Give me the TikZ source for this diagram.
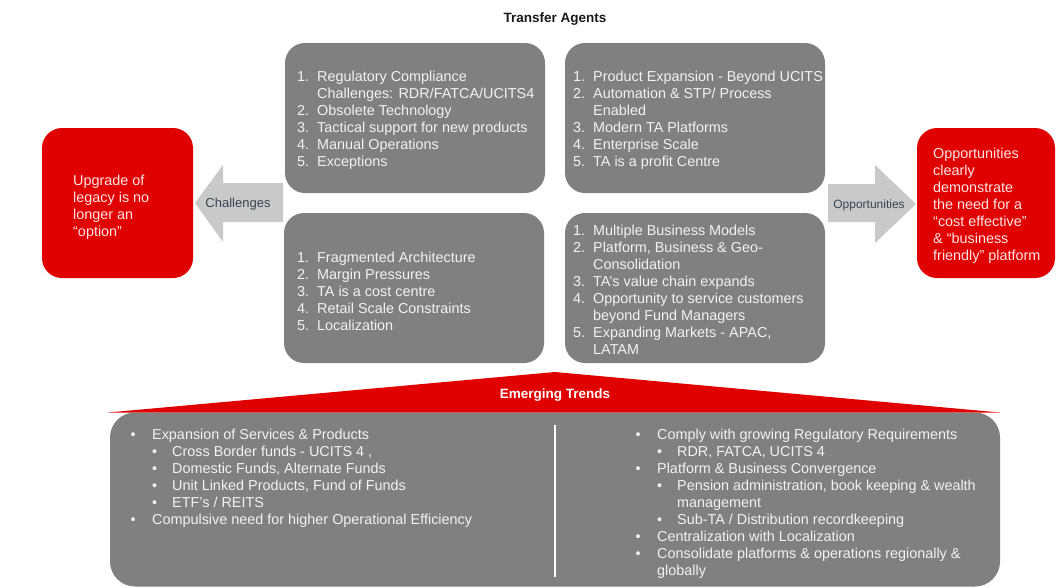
\documentclass[tikz,border=0pt]{standalone}
\usepackage{fontspec}
\setmainfont{Liberation Sans}
\definecolor{tared}{HTML}{E10000}
\definecolor{tagray}{HTML}{808080}
\definecolor{taarrow}{HTML}{C9C9C9}
\definecolor{tatext}{HTML}{F2F2F2}
\definecolor{tapink}{HTML}{FCE4E4}
\definecolor{talabel}{HTML}{3A4450}
\newcommand\numit[2]{\makebox[20pt][l]{#1}#2}
\newcommand\contl[1]{\hspace{20pt}#1}
\newcommand\bul{\makebox[21.5pt][l]{\textbullet}}
\newcommand\subbul{\hspace{21.5pt}\makebox[20pt][l]{\textbullet}}
\begin{document}
\begin{tikzpicture}[x=1pt,y=-1pt,
  graybox/.style={fill=tagray, draw=none, rounded corners=20pt, inner sep=0pt, minimum width=260pt, minimum height=150pt},
  redbox/.style={fill=tared, draw=none, rounded corners=20pt, inner sep=0pt, minimum height=150pt},
  listtext/.style={anchor=north west, inner sep=0pt, text=tatext, font=\fontsize{14.4}{17}\selectfont},
  redtext/.style={anchor=north west, inner sep=0pt, text=tapink, font=\fontsize{14.4}{17}\selectfont},
  blockarrow/.style={fill=taarrow, draw=none},
  arrowlabel/.style={inner sep=0pt, text=talabel},
  title/.style={inner sep=0pt, font=\bfseries\fontsize{13.5}{16}\selectfont}
]
\useasboundingbox (0,0) rectangle (1057,587);
\fill[white] (0,0) rectangle (1057,587);

% title
\node[title, text=black!90] (title) at (555,19.5) {Transfer Agents};

% block arrows
\fill[blockarrow] (195,203) -- (223,165) -- (223,183) -- (283,183) -- (283,222) -- (223,222) -- (223,242) -- cycle;
\fill[blockarrow] (916,204) -- (875,165) -- (875,184) -- (828,184) -- (828,222) -- (875,222) -- (875,243) -- cycle;
\node[arrowlabel, font=\fontsize{13}{15}\selectfont] (chal) at (238,204) {Challenges};
\node[arrowlabel, font=\fontsize{12}{14}\selectfont] (opp) at (869,205) {Opportunities};

% gray boxes
\node[graybox] (tl) at (415,118) {};
\node[graybox] (tr) at (695,118) {};
\node[graybox] (bl) at (414,288) {};
\node[graybox] (br) at (695,288) {};

% red boxes
\node[redbox, minimum width=151pt] (rl) at (117.5,203) {};
\node[redbox, minimum width=138pt] (rr) at (986,203) {};

\node[redtext] (rltext) at (73,173) {\begin{tabular}{@{}l@{}}Upgrade of\\ legacy is no\\ longer an\\ “option”\end{tabular}};
\node[redtext] (rrtext) at (933,146.5) {\begin{tabular}{@{}l@{}}Opportunities\\ clearly\\ demonstrate\\ the need for a\\ “cost effective”\\ \& “business\\ friendly” platform\end{tabular}};

% gray box texts
\node[listtext] (tltext) at (297,69) {\begin{tabular}{@{}l@{}}
\numit{1.}{Regulatory Compliance}\\
\contl{Challenges: RDR/FATCA/UCITS4}\\
\numit{2.}{Obsolete Technology}\\
\numit{3.}{Tactical support for new products}\\
\numit{4.}{Manual Operations}\\
\numit{5.}{Exceptions}
\end{tabular}};
\node[listtext] (trtext) at (573,69.5) {\begin{tabular}{@{}l@{}}
\numit{1.}{Product Expansion - Beyond UCITS}\\
\numit{2.}{Automation \& STP/ Process}\\
\contl{Enabled}\\
\numit{3.}{Modern TA Platforms}\\
\numit{4.}{Enterprise Scale}\\
\numit{5.}{TA is a profit Centre}
\end{tabular}};
\node[listtext] (bltext) at (297,250) {\begin{tabular}{@{}l@{}}
\numit{1.}{Fragmented Architecture}\\
\numit{2.}{Margin Pressures}\\
\numit{3.}{TA is a cost centre}\\
\numit{4.}{Retail Scale Constraints}\\
\numit{5.}{Localization}
\end{tabular}};
\node[listtext] (brtext) at (573,223.5) {\begin{tabular}{@{}l@{}}
\numit{1.}{Multiple Business Models}\\
\numit{2.}{Platform, Business \& Geo-}\\
\contl{Consolidation}\\
\numit{3.}{TA’s value chain expands}\\
\numit{4.}{Opportunity to service customers}\\
\contl{beyond Fund Managers}\\
\numit{5.}{Expanding Markets - APAC,}\\
\contl{LATAM}
\end{tabular}};

% emerging trends
\fill[tared] (108,412.5) -- (555,372) -- (1000,412.5) -- cycle;
\node[title, text=white] (et) at (555,395) {Emerging Trends};
\node[fill=tagray, draw=none, rounded corners=25pt, inner sep=0pt, minimum width=890pt, minimum height=174pt] (bot) at (555,499.5) {};
\coordinate (divtop) at (555,425);
\coordinate (divbot) at (555,577);
\draw[white, line width=2.5pt] (divtop) -- (divbot);

\node[listtext] (blist) at (130.5,427.5) {\begin{tabular}{@{}l@{}}
\bul Expansion of Services \& Products\\
\subbul Cross Border funds - UCITS 4 ,\\
\subbul Domestic Funds, Alternate Funds\\
\subbul Unit Linked Products, Fund of Funds\\
\subbul ETF’s / REITS\\
\bul Compulsive need for higher Operational Efficiency
\end{tabular}};
\node[listtext] (rlist) at (635.5,427.5) {\begin{tabular}{@{}l@{}}
\bul Comply with growing Regulatory Requirements\\
\subbul RDR, FATCA, UCITS 4\\
\bul Platform \& Business Convergence\\
\subbul Pension administration, book keeping \& wealth\\
\hspace{41.5pt}management\\
\subbul Sub-TA / Distribution recordkeeping\\
\bul Centralization with Localization\\
\bul Consolidate platforms \& operations regionally \&\\
\hspace{21.5pt}globally
\end{tabular}};
\end{tikzpicture}
\end{document}
